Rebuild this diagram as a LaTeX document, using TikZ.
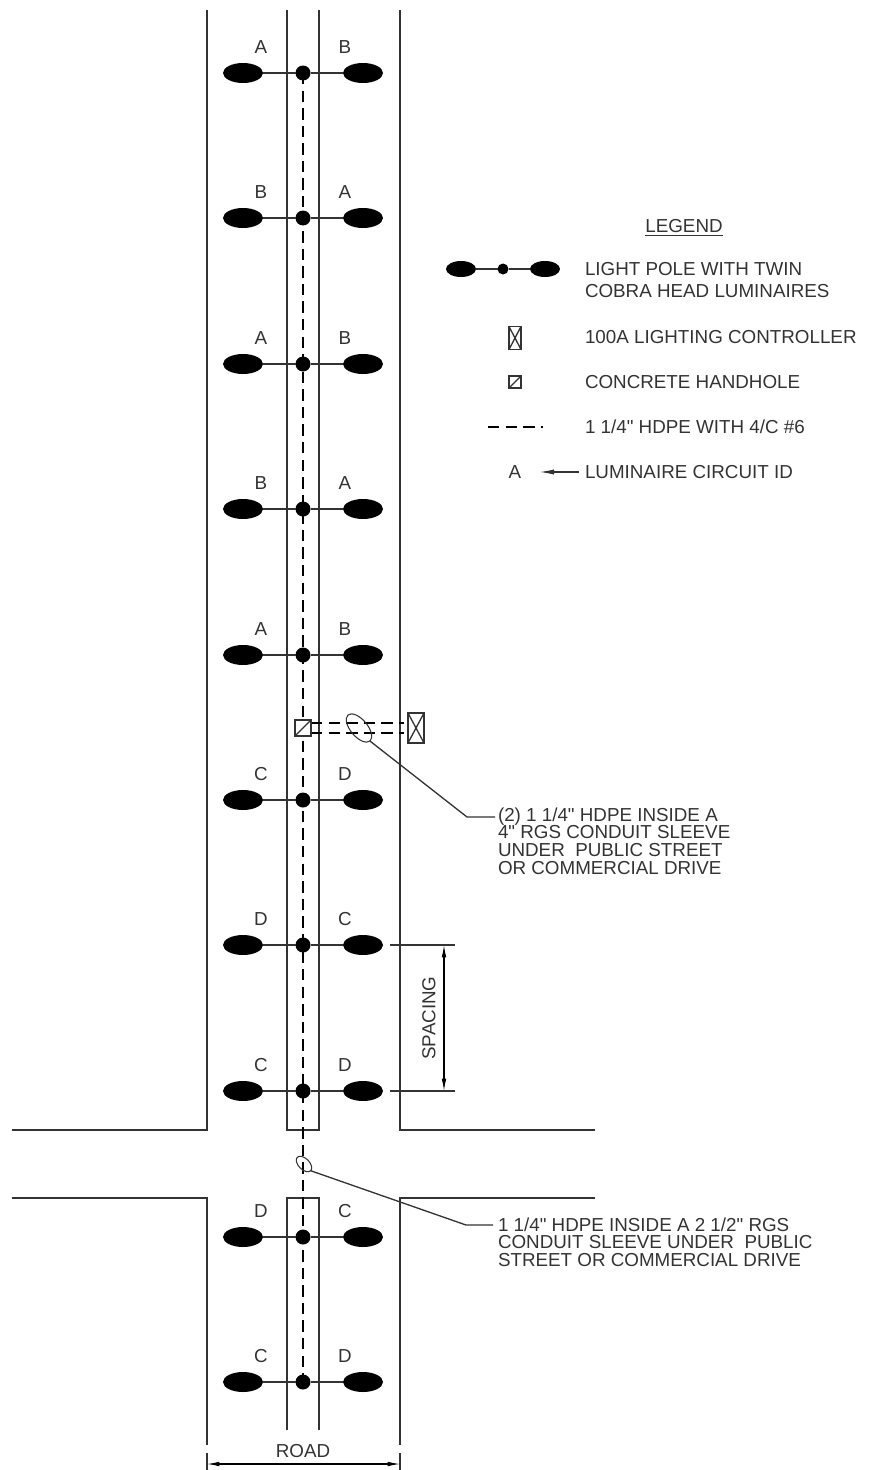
\documentclass[tikz,border=0pt]{standalone}
\usepackage{fontspec}
\setmainfont[Ligatures=TeXOff]{Liberation Sans}
\usetikzlibrary{arrows.meta}
\usetikzlibrary{shapes}

\begin{document}
\begin{tikzpicture}[x=0.02cm,y=-0.02cm,line width=0.75pt,color=black!80,
					every node/.style = {inner sep=0pt,outer sep=0pt,font=\fontsize{10.7}{10}\selectfont}]

\tikzstyle{pole}=[circle,fill=black,draw=none,minimum size=0.3cm]
\tikzstyle{head}=[ellipse,fill=black,draw=none,minimum width=0.8cm,minimum height=0.4cm]
\tikzstyle{key_pole}=[circle,fill=black,draw=none,minimum size=0.22cm]
\tikzstyle{key_head}=[ellipse,fill=black,draw=none,minimum width=0.6cm,minimum height=0.32cm]
\tikzstyle{hole}=[rectangle,draw,fill=white,line width=1.1pt,minimum size=0.32cm]
\tikzstyle{controller}=[rectangle,draw,fill=white,line width=1.1pt,minimum width=0.32cm,minimum height=0.6cm]
\tikzstyle{sleeve}=[ellipse,draw,line width=0.6pt]
\tikzstyle{conduit}=[dash pattern=on 6.5pt off 3.5pt,line width=1pt,black]
\tikzstyle{note}=[anchor=west,align=left,font=\fontsize{10.7}{10}\selectfont]
\tikzstyle{dim}=[{Latex[length=7pt,width=2.6pt]}-{Latex[length=7pt,width=2.6pt]},line width=0.6pt,black]

\useasboundingbox (0,0) rectangle (870,1470);

% road edges
\coordinate (ul_a) at (207,10);
\coordinate (ul_b) at (207,1130);
\coordinate (ul_c) at (12,1130);
\coordinate (ur_a) at (400,10);
\coordinate (ur_b) at (400,1130);
\coordinate (ur_c) at (595,1130);
\coordinate (ll_a) at (12,1198);
\coordinate (ll_b) at (207,1198);
\coordinate (ll_c) at (207,1445);
\coordinate (lr_a) at (595,1198);
\coordinate (lr_b) at (400,1198);
\coordinate (lr_c) at (400,1445);
\draw (ul_a) -- (ul_b) -- (ul_c);
\draw (ur_a) -- (ur_b) -- (ur_c);
\draw (ll_a) -- (ll_b) -- (ll_c);
\draw (lr_a) -- (lr_b) -- (lr_c);

% median
\coordinate (um_a) at (287,10);
\coordinate (um_b) at (287,1130);
\coordinate (um_c) at (319,1130);
\coordinate (um_d) at (319,10);
\coordinate (lm_a) at (287,1430);
\coordinate (lm_b) at (287,1198);
\coordinate (lm_c) at (319,1198);
\coordinate (lm_d) at (319,1430);
\draw (um_a) -- (um_b) -- (um_c) -- (um_d);
\draw (lm_a) -- (lm_b) -- (lm_c) -- (lm_d);

% poles
\coordinate (run_top) at (303,73);
\coordinate (run_bot) at (303,1382);
\draw[conduit] (run_top) -- (run_bot);

\foreach \i/\yy/\lft/\rgt in {1/73/A/B,2/218/B/A,3/364/A/B,4/509/B/A,5/655/A/B,
							  6/800/C/D,7/945/D/C,8/1091/C/D,9/1237/D/C,10/1382/C/D} {
	\node[pole] (pole\i) at (303,\yy) {};
	\node[head] (left\i) at (243,\yy) {};
	\node[head] (right\i) at (363,\yy) {};
	\draw (left\i) -- (pole\i) -- (right\i);
	\node (tagl\i) at (261,\yy-26) {\lft};
	\node (tagr\i) at (345,\yy-26) {\rgt};
}

% handhole and controller
\coordinate (sleeve_a) at (311,723);
\coordinate (sleeve_b) at (311,733);
\coordinate (ctrl_a) at (404,723);
\coordinate (ctrl_b) at (404,733);
\draw[conduit] (sleeve_a) -- (ctrl_a);
\draw[conduit] (sleeve_b) -- (ctrl_b);
\node[hole] (hh) at (303,728) {};
\draw (hh.south west) -- (hh.north east);
\node[controller] (ctrl) at (416,728) {};
\draw (ctrl.south west) -- (ctrl.north east);
\draw (ctrl.north west) -- (ctrl.south east);

% notes
\node[sleeve,minimum width=0.68cm,minimum height=0.34cm,rotate=-50] (oval_a) at (359,728) {};
\coordinate (lead_a) at (467,817);
\coordinate (lead_b) at (495,817);
\draw (oval_a.east) -- (lead_a) -- (lead_b);
\node[note] (note_a) at (498,841) {(2) 1 1/4" HDPE INSIDE A\\4" RGS CONDUIT SLEEVE\\UNDER\ \ PUBLIC STREET\\OR COMMERCIAL DRIVE};

\node[sleeve,minimum width=0.38cm,minimum height=0.22cm,rotate=-45] (oval_b) at (304,1164) {};
\coordinate (lead_c) at (466,1225);
\coordinate (lead_d) at (493,1225);
\draw (oval_b.east) -- (lead_c) -- (lead_d);
\node[note] (note_b) at (498,1242) {1 1/4" HDPE INSIDE A 2 1/2" RGS\\CONDUIT SLEEVE UNDER\ \ PUBLIC\\STREET OR COMMERCIAL DRIVE};

% dimensions
\coordinate (ext_a) at (390,945);
\coordinate (ext_b) at (455,945);
\coordinate (ext_c) at (390,1091);
\coordinate (ext_d) at (455,1091);
\coordinate (arr_a) at (444,945);
\coordinate (arr_b) at (444,1091);
\draw (ext_a) -- (ext_b);
\draw (ext_c) -- (ext_d);
\draw[dim] (arr_a) -- (arr_b);
\node[rotate=90] (spacing) at (429,1018) {SPACING};

\coordinate (road_a) at (207,1453);
\coordinate (road_b) at (207,1470);
\coordinate (road_c) at (400,1453);
\coordinate (road_d) at (400,1470);
\coordinate (road_e) at (207,1464);
\coordinate (road_f) at (400,1464);
\draw (road_a) -- (road_b);
\draw (road_c) -- (road_d);
\draw[dim] (road_e) -- (road_f);
\node (road) at (303,1451) {ROAD};

% legend
\node (legend) at (684,228) {\underline{LEGEND}};
\node[key_pole] (key_pole) at (503,269) {};
\node[key_head] (key_left) at (461,269) {};
\node[key_head] (key_right) at (545,269) {};
\draw (key_left) -- (key_pole) -- (key_right);
\node[note] (txt_pole) at (585,280) {LIGHT POLE WITH TWIN\\[2pt]COBRA HEAD LUMINAIRES};
\node[controller,minimum width=0.24cm,minimum height=0.46cm] (key_ctrl) at (515,338) {};
\draw (key_ctrl.south west) -- (key_ctrl.north east);
\draw (key_ctrl.north west) -- (key_ctrl.south east);
\node[note] (txt_ctrl) at (585,337) {100A LIGHTING CONTROLLER};
\node[hole,minimum size=0.24cm] (key_hole) at (515,382) {};
\draw (key_hole.south west) -- (key_hole.north east);
\node[note] (txt_hole) at (585,382) {CONCRETE HANDHOLE};
\coordinate (key_run_a) at (488,427);
\coordinate (key_run_b) at (543,427);
\draw[conduit] (key_run_a) -- (key_run_b);
\node[note] (txt_run) at (585,427) {1 1/4" HDPE WITH 4/C \#6};
\node (key_tag) at (515,472) {A};
\node[note] (txt_tag) at (585,472) {LUMINAIRE CIRCUIT ID};
\coordinate (key_arrow) at (579,472);
\draw[-{Latex[length=8pt,width=3pt]},line width=0.6pt] (key_arrow) -- (540,472);
\end{tikzpicture}
\end{document}
